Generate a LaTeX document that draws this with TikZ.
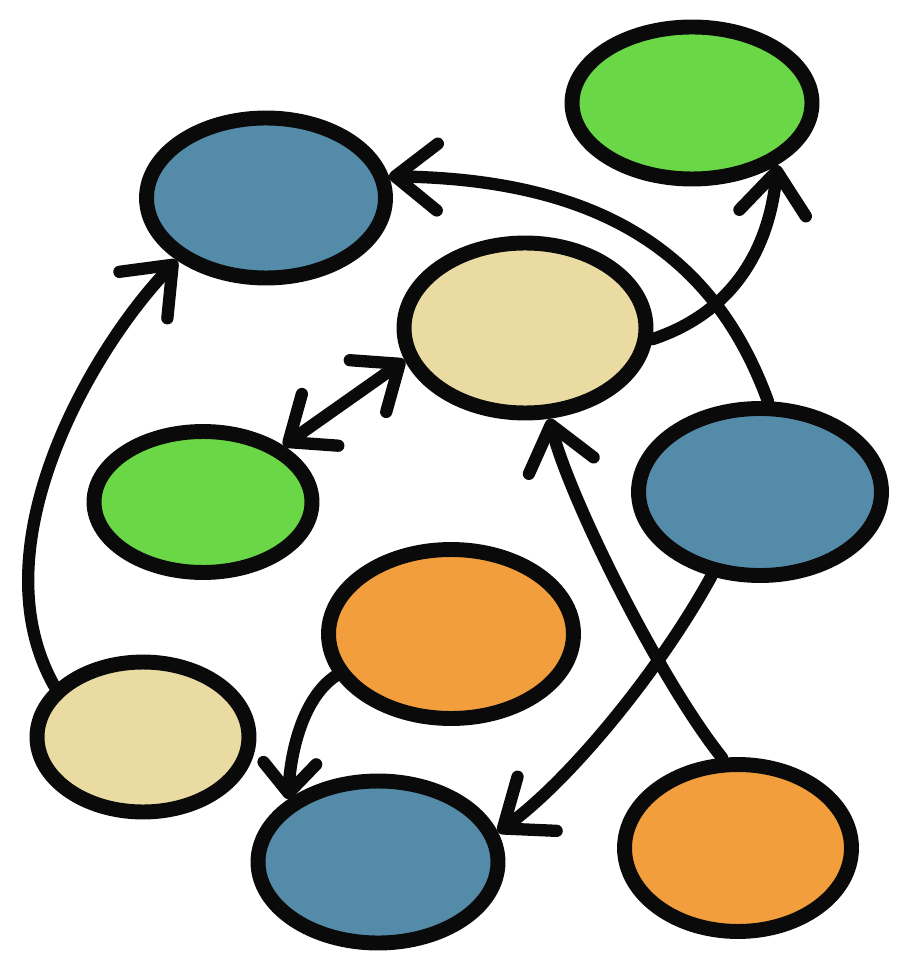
\documentclass[tikz,border=0pt]{standalone}
\usetikzlibrary{shapes.geometric,arrows.meta}
\definecolor{bblue}{HTML}{548BA8}
\definecolor{bgreen}{HTML}{6AD846}
\definecolor{bbeige}{HTML}{EADBA3}
\definecolor{borange}{HTML}{F29E3D}
\definecolor{ink}{HTML}{0A0A0A}
\tikzset{
  blob/.style={ellipse, draw=ink, line width=8.5pt, inner sep=0pt},
  conn/.style={draw=ink, line width=7pt, line cap=round,
    -{Straight Barb[length=24pt,width=38pt,round]}},
  connsmall/.style={draw=ink, line width=7pt, line cap=round,
    -{Straight Barb[length=17pt,width=30pt,round]}},
  conn2/.style={draw=ink, line width=7pt, line cap=round,
    {Straight Barb[length=22pt,width=36pt,round]}-{Straight Barb[length=22pt,width=36pt,round]}}
}
\begin{document}
\begin{tikzpicture}[x=0.02cm,y=-0.02cm]
\useasboundingbox (0,0) rectangle (899,955);
\node[blob, fill=bblue,   minimum width=4.78cm, minimum height=3.20cm] (n1) at (266,198) {};
\node[blob, fill=bgreen,  minimum width=4.80cm, minimum height=3.04cm] (n2) at (692,103) {};
\node[blob, fill=bbeige,  minimum width=4.84cm, minimum height=3.40cm] (n3) at (525,328) {};
\node[blob, fill=bgreen,  minimum width=4.36cm, minimum height=2.82cm] (n4) at (203,502) {};
\node[blob, fill=bblue,   minimum width=4.86cm, minimum height=3.34cm] (n5) at (760,492) {};
\node[blob, fill=borange, minimum width=4.90cm, minimum height=3.38cm] (n6) at (451,634) {};
\node[blob, fill=bbeige,  minimum width=4.24cm, minimum height=3.00cm] (n7) at (143,737) {};
\node[blob, fill=bblue,   minimum width=4.80cm, minimum height=3.24cm] (n8) at (378,862) {};
\node[blob, fill=borange, minimum width=4.54cm, minimum height=3.34cm] (n9) at (738,848) {};
% connectors
\draw[conn] (n7.150) .. controls (-25,545) and (95,345) .. (n1.215);
\draw[conn] (n5.85) .. controls (720,270) and (620,180) .. (n1.10);
\draw[conn] (n3.-5) .. controls (740,310) and (770,240) .. (n2.-36);
\draw[conn2] (n4.35) -- (n3.195);
\draw[conn] (n9.100) .. controls (660,680) and (570,500) .. (n3.-75);
\draw[conn] (n5.240) .. controls (660,670) and (570,780) .. (n8.14);
\draw[connsmall] (n6.200) .. controls (300,700) and (290,760) .. (n8.145);
\end{tikzpicture}
\end{document}
